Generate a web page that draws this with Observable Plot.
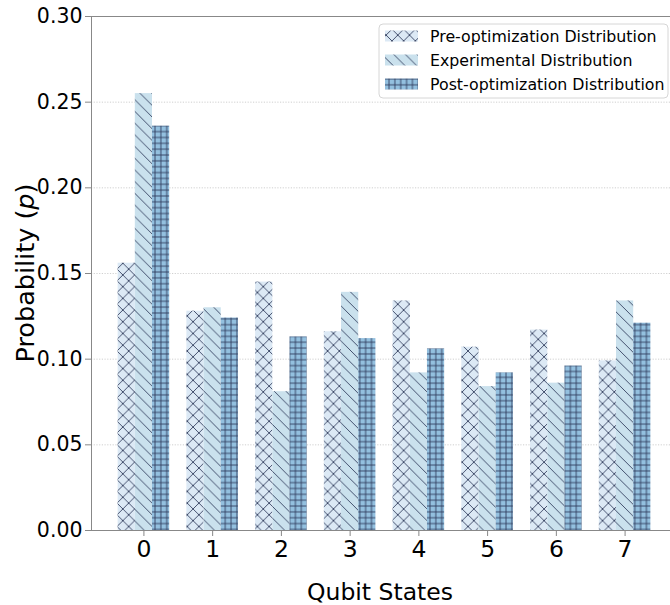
<!DOCTYPE html>
<html><head><meta charset="utf-8">
<script src="https://cdn.jsdelivr.net/npm/d3@7"></script>
<script src="https://cdn.jsdelivr.net/npm/@observablehq/plot@0.6"></script>
<style>
html,body{margin:0;padding:0;overflow:hidden;background:#fff;}
#chart{width:670px;height:605px;overflow:hidden;}
#chart svg{max-width:none !important;width:677px !important;height:605px !important;}
</style></head><body><div id="chart"></div>
<script>
// ---- data ----
const states = [0, 1, 2, 3, 4, 5, 6, 7];
const seriesNames = ["Pre-optimization Distribution", "Experimental Distribution", "Post-optimization Distribution"];
const preOpt       = [0.156, 0.128, 0.145, 0.116, 0.134, 0.107, 0.117, 0.099];
const experimental = [0.255, 0.130, 0.081, 0.139, 0.092, 0.084, 0.086, 0.134];
const postOpt      = [0.236, 0.124, 0.113, 0.112, 0.106, 0.092, 0.096, 0.121];
const yTicks = [0, 0.05, 0.10, 0.15, 0.20, 0.25, 0.30];
const xLabel = "Qubit States";
const yLabelMain = "Probability (";
const yLabelVar = "p";
const yLabelEnd = ")";

// ---- styles ----
const seriesFills = ["#dce9f5", "#cae1ed", "#93c0df"];
const hatchColor = "#2b3656";
const T = 11.7;
const barW = 0.25;
const xDomain = [-0.7625, 7.7625];

const allSeries = [preOpt, experimental, postOpt];
const rows = [];
allSeries.forEach((vals, s) => vals.forEach((v, i) => rows.push({state: states[i], s, series: seriesNames[s], value: v})));

function hatchLines(g, kind) {
  const L = (x1, y1, x2, y2) => g.append("line").attr("x1", x1).attr("y1", y1).attr("x2", x2).attr("y2", y2)
    .attr("stroke", hatchColor).attr("stroke-width", 0.85).attr("stroke-linecap", "square");
  if (kind === 0) {
    L(0, 0, T, T); L(0, T, T, 0);
  } else if (kind === 1) {
    L(0, 0, T, T); L(-2, T - 2, 2, T + 2); L(T - 2, -2, T + 2, 2);
  } else {
    L(0, T / 4, T, T / 4); L(0, 3 * T / 4, T, 3 * T / 4);
    L(T / 4, 0, T / 4, T); L(3 * T / 4, 0, 3 * T / 4, T);
  }
}

function defsMark() {
  const d = d3.create("svg:defs");
  seriesFills.forEach((c, s) => {
    const p = d.append("pattern").attr("id", "hatch" + s).attr("patternUnits", "userSpaceOnUse")
      .attr("width", T).attr("height", T);
    p.append("rect").attr("width", T).attr("height", T).attr("fill", c);
    hatchLines(p, s);
  });
  return d.node();
}

function annotations(index, scales, values, dims) {
  const g = d3.create("svg:g").attr("font-family", "DejaVu Sans").attr("fill", "#000").attr("text-anchor", "start");
  const left = dims.marginLeft, right = dims.width - dims.marginRight;
  const top = dims.marginTop, bottom = dims.height - dims.marginBottom;
  // x label
  g.append("text").attr("x", (left + right) / 2 - 4).attr("y", dims.height - 5)
    .attr("text-anchor", "middle").attr("font-size", 23.5).text(xLabel);
  // y label
  const yl = g.append("text").attr("transform", `translate(${left - 57},${(top + bottom) / 2}) rotate(-90)`)
    .attr("text-anchor", "middle").attr("font-size", 25.5);
  yl.append("tspan").text(yLabelMain);
  yl.append("tspan").attr("font-style", "italic").text(yLabelVar);
  yl.append("tspan").text(yLabelEnd);
  // legend
  const bx = 379, by = 24, bw = 289, bh = 74;
  g.append("rect").attr("x", bx).attr("y", by).attr("width", bw).attr("height", bh)
    .attr("rx", 4).attr("fill", "#fff").attr("fill-opacity", 0.8).attr("stroke", "#d6d6d6");
  seriesNames.forEach((name, s) => {
    const cy = 36 + s * 24;
    g.append("rect").attr("x", 385).attr("y", cy - 5.5).attr("width", 33).attr("height", 11)
      .attr("fill", `url(#hatch${s})`);
    g.append("text").attr("x", 430).attr("y", cy).attr("dy", "0.36em").attr("text-anchor", "start")
      .attr("font-size", 15.8).text(name);
  });
  return g.node();
}

const marks = [
  defsMark,
  Plot.gridY(yTicks, {stroke: "#c4c4c4", strokeOpacity: 1, strokeWidth: 0.8, strokeDasharray: "1.2,1.5"}),
];
allSeries.forEach((vals, s) => {
  marks.push(Plot.rectY(rows.filter(d => d.s === s), {
    x1: d => d.state + (d.s - 1) * barW - barW / 2,
    x2: d => d.state + (d.s - 1) * barW + barW / 2,
    y1: 0, y2: "value",
    fill: `url(#hatch${s})`
  }));
});
marks.push(
  Plot.ruleX([xDomain[0]], {stroke: "#888", strokeWidth: 1}),
  Plot.ruleY([0], {stroke: "#888", strokeWidth: 1}),
  Plot.ruleY([0.30], {stroke: "#888", strokeWidth: 1}),
  Plot.axisY(yTicks, {tickFormat: d3.format(".2f"), tickSize: 6, tickPadding: 3, fontSize: 20.5, label: null, stroke: "#888"}),
  Plot.axisX(states, {tickFormat: d => String(d), tickSize: 6, tickPadding: 4, fontSize: 23.5, label: null, stroke: "#888"}),
  annotations
);

const chart = Plot.plot({
  width: 677, height: 605,
  marginLeft: 91, marginRight: 0, marginTop: 16, marginBottom: 75,
  style: {fontFamily: "DejaVu Sans", color: "#000", background: "#fff", overflow: "visible"},
  x: {type: "linear", domain: xDomain},
  y: {type: "linear", domain: [0, 0.30]},
  marks
});
document.getElementById("chart").appendChild(chart);
</script>
</body></html>
